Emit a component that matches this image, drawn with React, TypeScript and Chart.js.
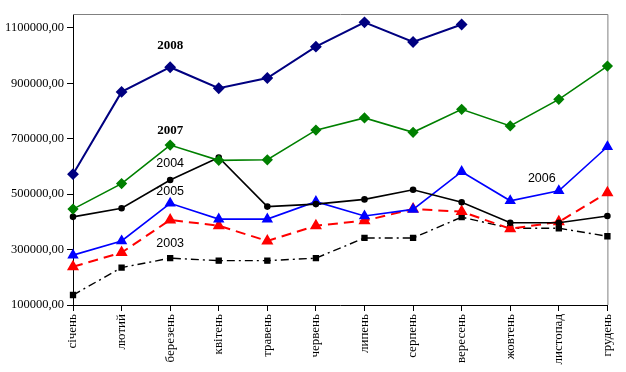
import React, { useEffect, useRef } from "react";
import { Chart, registerables } from "chart.js";

Chart.register(...registerables);

const months = [
  "січень", "лютий", "березень", "квітень", "травень", "червень",
  "липень", "серпень", "вересень", "жовтень", "листопад", "грудень",
];

const s2008 = [572000, 869000, 958000, 882000, 919000, 1032000, 1120000, 1049000, 1112000, null, null, null];
const s2007 = [446000, 538000, 677000, 622000, 624000, 731000, 775000, 723000, 806000, 746000, 842000, 962000];
const s2004 = [418000, 449000, 551000, 632000, 455000, 464000, 481000, 516000, 471000, 397000, 397000, 421000];
const s2006 = [280000, 331000, 467000, 410000, 410000, 473000, 421000, 445000, 581000, 476000, 512000, 671000];
const s2005 = [238000, 289000, 407000, 386000, 331000, 386000, 404000, 446000, 437000, 375000, 400000, 505000];
const s2003 = [136000, 235000, 269000, 260000, 260000, 269000, 342000, 342000, 417000, 377000, 377000, 348000];

const yTicks = [100000, 300000, 500000, 700000, 900000, 1100000];
const yMin = 100000;
const yMax = 1150000;

// year labels: [text, category position, value, font]
const yearLabels: [string, number, number, string][] = [
  ["2008", 2, 1035000, "serif"],
  ["2007", 2, 728000, "serif"],
  ["2004", 2, 612000, "sans"],
  ["2005", 2, 511000, "sans"],
  ["2003", 2, 320000, "sans"],
  ["2006", 9.65, 555000, "sans"],
];

export default function App() {
  const ref = useRef<HTMLCanvasElement>(null);

  useEffect(() => {
    if (!ref.current) return;

    const framePlugin = {
      id: "frame",
      beforeDatasetsDraw(chart: any) {
        const { ctx, chartArea } = chart;
        ctx.save();
        ctx.strokeStyle = "#808080";
        ctx.lineWidth = 1;
        ctx.beginPath();
        ctx.moveTo(chartArea.left, chartArea.top + 0.5);
        ctx.lineTo(chartArea.right + 0.5, chartArea.top + 0.5);
        ctx.lineTo(chartArea.right + 0.5, chartArea.bottom);
        ctx.stroke();
        ctx.restore();
      },
    };

    const textPlugin = {
      id: "yearText",
      afterDatasetsDraw(chart: any) {
        const { ctx } = chart;
        const xs = chart.scales.x;
        const ys = chart.scales.y;
        ctx.save();
        ctx.fillStyle = "#000";
        ctx.textAlign = "center";
        ctx.textBaseline = "middle";
        for (const [t, xi, v, f] of yearLabels) {
          ctx.font =
            f === "serif"
              ? "bold 13px 'Liberation Serif', serif"
              : "12.5px 'Liberation Sans', Arial, sans-serif";
          const x0 = xs.getPixelForValue(0);
          const x1 = xs.getPixelForValue(1);
          const px = x0 + (x1 - x0) * xi;
          ctx.fillText(t, px, ys.getPixelForValue(v));
        }
        ctx.restore();
      },
    };

    const chart = new Chart(ref.current, {
      type: "line",
      data: {
        labels: months,
        datasets: [
          {
            label: "2008",
            data: s2008,
            borderColor: "#000080",
            backgroundColor: "#000080",
            borderWidth: 2,
            pointStyle: "rectRot",
            pointRadius: 4.5,
            spanGaps: false,
          },
          {
            label: "2007",
            data: s2007,
            borderColor: "#008000",
            backgroundColor: "#008000",
            borderWidth: 1.6,
            pointStyle: "rectRot",
            pointRadius: 4.5,
          },
          {
            label: "2004",
            data: s2004,
            borderColor: "#000000",
            backgroundColor: "#000000",
            borderWidth: 1.6,
            pointStyle: "circle",
            pointRadius: 2.5,
          },
          {
            label: "2006",
            data: s2006,
            borderColor: "#0000FF",
            backgroundColor: "#0000FF",
            borderWidth: 1.6,
            pointStyle: "triangle",
            pointRadius: 5,
          },
          {
            label: "2005",
            data: s2005,
            borderColor: "#FF0000",
            backgroundColor: "#FF0000",
            borderWidth: 2,
            borderDash: [10, 6],
            pointStyle: "triangle",
            pointRadius: 5,
          },
          {
            label: "2003",
            data: s2003,
            borderColor: "#000000",
            backgroundColor: "#000000",
            borderWidth: 1.4,
            borderDash: [8, 4, 2, 4],
            pointStyle: "rect",
            pointRadius: 3.5,
          },
        ],
      },
      options: {
        responsive: false,
        animation: false,
        layout: { padding: { top: 14, right: 13, left: 0, bottom: 0 } },
        plugins: {
          legend: { display: false },
          tooltip: { enabled: false },
        },
        elements: { line: { tension: 0 }, point: { borderWidth: 1 } },
        scales: {
          x: {
            type: "category",
            offset: false,
            grid: {
              display: true,
              drawOnChartArea: false,
              drawTicks: true,
              tickLength: 6,
              color: "#000",
            },
            border: { display: true, color: "#000", width: 1 },
            ticks: {
              autoSkip: false,
              maxRotation: 90,
              minRotation: 90,
              padding: 3,
              color: "#000",
              font: { family: "'Liberation Serif', serif", size: 13 },
            },
            afterFit(scale: any) {
              scale.height = 67;
            },
          },
          y: {
            min: yMin,
            max: yMax,
            grid: {
              display: true,
              drawOnChartArea: false,
              drawTicks: true,
              tickLength: 6,
              color: "#000",
            },
            border: { display: true, color: "#000", width: 1 },
            afterBuildTicks(scale: any) {
              scale.ticks = yTicks.map((v) => ({ value: v }));
            },
            ticks: {
              padding: 3,
              color: "#000",
              font: { family: "'Liberation Serif', serif", size: 12.5 },
              callback: (v: any) => Number(v).toFixed(2).replace(".", ","),
            },
            afterFit(scale: any) {
              scale.width = 73;
            },
          },
        },
      },
      plugins: [framePlugin, textPlugin],
    });

    return () => chart.destroy();
  }, []);

  return (
    <div style={{ position: "fixed", left: 0, top: 0, width: 626, height: 372, background: "#fff" }}>
      <canvas ref={ref} width={626} height={372} />
    </div>
  );
}
